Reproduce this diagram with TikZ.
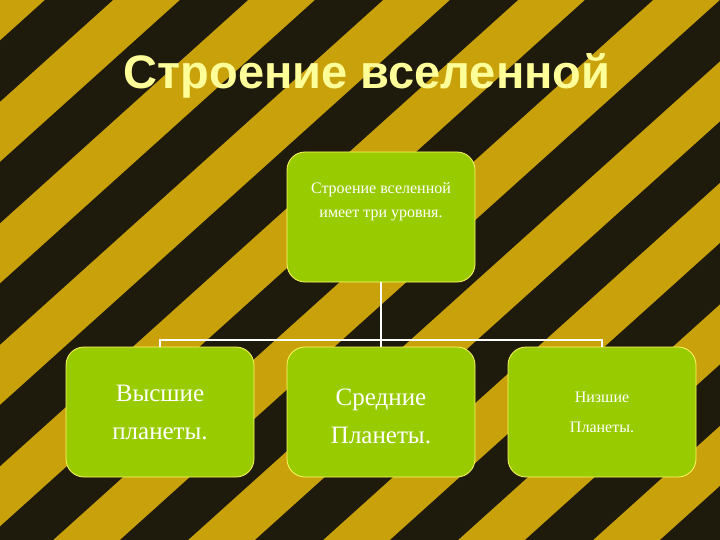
\documentclass[tikz,border=0pt]{standalone}
\usepackage{fontspec}
\setmainfont{Liberation Serif}
\newfontfamily\titlefont{Liberation Sans}
\begin{document}
\begin{tikzpicture}[x=1pt,y=-1pt,
  box/.style={draw=yellow!60!white,line width=0.8pt,fill=boxgreen,rounded corners=18pt,
    minimum width=188pt,minimum height=130pt,inner sep=0pt,align=center,text=white},
  link/.style={draw=white,line width=1.5pt}]
\definecolor{boxgreen}{HTML}{99CC00}
\definecolor{stripey}{HTML}{C9A10A}
\definecolor{stripek}{HTML}{1E1A0C}
\definecolor{titley}{HTML}{FFFF99}
\useasboundingbox (0,0) rectangle (720,540);
\fill[stripey] (0,0) rectangle (720,540);
\begin{scope}
\clip (0,0) rectangle (720,540);
\foreach \c in {-630,-495,...,1400}{
  \fill[stripek] (\c,0) -- (\c+68,0) -- (\c+68-600,540) -- (\c-600,540) -- cycle;
}
\end{scope}
\node[font=\titlefont\bfseries\fontsize{47}{52}\selectfont,text=titley] (title) at (367,76) {Строение вселенной};
\node[box,font=\fontsize{16}{24}\selectfont] (top) at (381,217) {Строение вселенной\\имеет три уровня.\\[10pt]};
\node[box,font=\fontsize{25}{38}\selectfont] (b1) at (160,412) {Высшие\\планеты.};
\node[box] (b2) at (381,412) {};
\node[align=center,text=white,font=\fontsize{25}{38}\selectfont] (b2t) at (381,416) {Средние\\Планеты.};
\node[box,font=\fontsize{16}{30}\selectfont] (b3) at (602,412) {Низшие\\Планеты.};
\coordinate (j) at (381,340);
\draw[link] (top.south) -- (j);
\draw[link] (b1.north) -- (b1.north|-j) -- (b3.north|-j) -- (b3.north);
\draw[link] (j) -- (b2.north);
\end{tikzpicture}
\end{document}
